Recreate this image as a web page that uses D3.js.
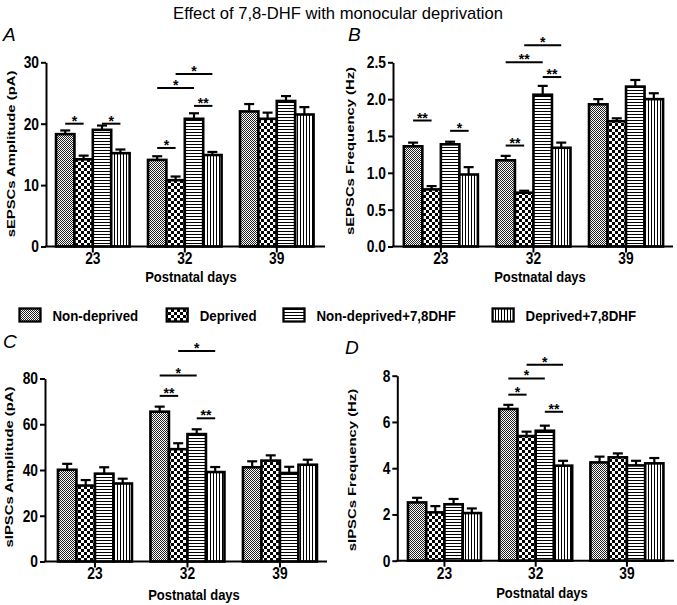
<!DOCTYPE html>
<html><head><meta charset="utf-8">
<script src="https://cdn.jsdelivr.net/npm/d3@7"></script>
<style>body{margin:0;background:#fff}svg{display:block}</style>
</head><body>
<svg id="chart" width="677" height="605"></svg>
<script>
// ---------- DATA ----------
const days = ["23", "32", "39"];
const groups = ["Non-deprived", "Deprived", "Non-deprived+7,8DHF", "Deprived+7,8DHF"];

// A: sEPSCs Amplitude (pA) — rows: days, cols: groups
const sEPSCampMean = [[18.3, 14.2, 19.0, 15.2], [14.1, 10.8, 20.8, 14.9], [22.0, 20.8, 23.7, 21.5]];
const sEPSCampSem  = [[0.6, 0.6, 0.7, 0.6], [0.6, 0.6, 0.9, 0.5], [1.2, 1.0, 0.8, 1.2]];
const sEPSCampTicks = [0, 10, 20, 30];
const sEPSCampSig = [
  {day: "23", a: 0, b: 1, y: 20.0, t: "*"}, {day: "23", a: 2, b: 3, y: 20.0, t: "*"},
  {day: "32", a: 0, b: 1, y: 16.05, t: "*"}, {day: "32", a: 2, b: 3, y: 22.9, t: "**"},
  {day: "32", a: 0, b: 2, y: 25.8, t: "*"}, {day: "32", a: 1, b: 3, y: 28.1, t: "*"}];

// B: sEPSCs Frequency (Hz)
const sEPSCfreqMean = [[1.36, 0.775, 1.387, 0.977], [1.17, 0.73, 2.06, 1.34], [1.93, 1.70, 2.17, 2.00]];
const sEPSCfreqSem  = [[0.05, 0.045, 0.035, 0.10], [0.06, 0.027, 0.12, 0.07], [0.07, 0.04, 0.09, 0.08]];
const sEPSCfreqTicks = [0, 0.5, 1.0, 1.5, 2.0, 2.5];
const sEPSCfreqSig = [
  {day: "23", a: 0, b: 1, y: 1.71, t: "**"}, {day: "23", a: 2, b: 3, y: 1.57, t: "*"},
  {day: "32", a: 0, b: 1, y: 1.37, t: "**"}, {day: "32", a: 2, b: 3, y: 2.30, t: "**"},
  {day: "32", a: 0, b: 2, y: 2.50, t: "**"}, {day: "32", a: 1, b: 3, y: 2.73, t: "*"}];

// C: sIPSCs Amplitude (pA)
const sIPSCampMean = [[40.1, 33.2, 38.4, 34.1], [65.5, 49.1, 55.7, 39.1], [41.2, 44.1, 38.7, 42.3]];
const sIPSCampSem  = [[2.6, 2.4, 2.8, 2.1], [2.2, 2.6, 2.1, 2.2], [2.6, 2.3, 2.7, 2.2]];
const sIPSCampTicks = [0, 20, 40, 60, 80];
const sIPSCampSig = [
  {day: "32", a: 0, b: 1, y: 72.4, t: "**"}, {day: "32", a: 0, b: 2, y: 81.3, t: "*"},
  {day: "32", a: 1, b: 3, y: 92.0, t: "*"}, {day: "32", a: 2, b: 3, y: 62.6, t: "**"}];

// D: sIPSCs Frequency (Hz)
const sIPSCfreqMean = [[2.52, 2.09, 2.44, 2.06], [6.56, 5.39, 5.62, 4.11], [4.25, 4.47, 4.12, 4.21]];
const sIPSCfreqSem  = [[0.20, 0.27, 0.23, 0.20], [0.18, 0.19, 0.22, 0.21], [0.25, 0.17, 0.20, 0.23]];
const sIPSCfreqTicks = [0, 2, 4, 6, 8];
const sIPSCfreqSig = [
  {day: "32", a: 0, b: 1, y: 7.18, t: "*"}, {day: "32", a: 0, b: 2, y: 7.88, t: "*"},
  {day: "32", a: 1, b: 3, y: 8.47, t: "*"}, {day: "32", a: 2, b: 3, y: 6.44, t: "**"}];

const titleText = "Effect of 7,8-DHF with monocular deprivation";
const xTitle = "Postnatal days";

// ---------- LAYOUT ----------
const FONT = "'Liberation Sans', Arial, Helvetica, sans-serif";
const K = 1.17; // vertical text stretch seen in the figure
const svg = d3.select("#chart");

// patterns
const defs = svg.append("defs");
function pat(id, w, h, draw) {
  const p = defs.append("pattern").attr("id", id).attr("patternUnits", "userSpaceOnUse")
    .attr("width", w).attr("height", h);
  p.append("rect").attr("width", w).attr("height", h).attr("fill", "#fff");
  draw(p);
}
pat("p0", 2, 2, p => {
  p.append("rect").attr("x", 0).attr("y", 0).attr("width", 1).attr("height", 1).attr("fill", "#222");
  p.append("rect").attr("x", 1).attr("y", 1).attr("width", 1).attr("height", 1).attr("fill", "#222");
});
pat("p1", 6, 6, p => {
  p.append("rect").attr("x", 0).attr("y", 0).attr("width", 3).attr("height", 3).attr("fill", "#000");
  p.append("rect").attr("x", 3).attr("y", 3).attr("width", 3).attr("height", 3).attr("fill", "#000");
});
pat("p2", 4, 3, p => {
  p.append("rect").attr("x", 0).attr("y", 0).attr("width", 4).attr("height", 1).attr("fill", "#000");
});
pat("p3", 3, 4, p => {
  p.append("rect").attr("x", 0).attr("y", 0).attr("width", 1).attr("height", 4).attr("fill", "#000");
});
const fills = ["url(#p0)", "url(#p1)", "url(#p2)", "url(#p3)"];

function stretchText(g, x, y, txt, size, weight, anchor, k, rot) {
  const gg = g.append("g").attr("transform", `translate(${x},${y}) scale(1,${k})` + (rot ? ` rotate(${rot})` : ""));
  return gg.append("text").attr("text-anchor", anchor).attr("font-family", FONT)
    .attr("font-size", size).attr("font-weight", weight).attr("fill", "#000").text(txt);
}

// title
svg.append("text").attr("x", 338).attr("y", 18.5).attr("text-anchor", "middle")
  .attr("font-family", FONT).attr("font-size", 16.6).attr("fill", "#000").text(titleText);

const panels = [
  {letter: "A", lx: 3, ly: 40.5, mean: sEPSCampMean, sem: sEPSCampSem, ticks: sEPSCampTicks, sig: sEPSCampSig,
   fmt: d3.format("d"), ylab: "sEPSCs Amplitude (pA)", ax: 46, axEnd: 325, rx1: 323.6, po: 0.109,
   yb: 246.5, yt: 62.3, ylx: 15, yly: 154, xtx: 191, xty: 281.5},
  {letter: "B", lx: 348, ly: 41, mean: sEPSCfreqMean, sem: sEPSCfreqSem, ticks: sEPSCfreqTicks, sig: sEPSCfreqSig,
   fmt: d3.format(".1f"), ylab: "sEPSCs Frequency (Hz)", ax: 393, axEnd: 673, rx1: 673.9, po: 0.117,
   yb: 246.5, yt: 62.3, ylx: 354, yly: 151, xtx: 540, xty: 281.5},
  {letter: "C", lx: 3, ly: 348, mean: sIPSCampMean, sem: sIPSCampSem, ticks: sIPSCampTicks, sig: sIPSCampSig,
   fmt: d3.format("d"), ylab: "sIPSCs Amplitude (pA)", ax: 45, axEnd: 327, rx1: 329.9, po: 0.14,
   yb: 561.5, yt: 378.5, ylx: 13, yly: 467, xtx: 194, xty: 599.5},
  {letter: "D", lx: 345, ly: 354, mean: sIPSCfreqMean, sem: sIPSCfreqSem, ticks: sIPSCfreqTicks, sig: sIPSCfreqSig,
   fmt: d3.format("d"), ylab: "sIPSCs Frequency (Hz)", ax: 397.3, axEnd: 674, rx1: 674.1, po: 0.117,
   yb: 560.7, yt: 375.7, ylx: 356, yly: 470, xtx: 542, xty: 598}
];

panels.forEach(P => {
  const g = svg.append("g");
  const yMax = P.ticks[P.ticks.length - 1];
  const y = d3.scaleLinear().domain([0, yMax]).range([P.yb, P.yt]);
  const x0 = d3.scaleBand().domain(days).range([P.ax, P.rx1]).paddingInner(0.2).paddingOuter(P.po);
  const x1 = d3.scaleBand().domain(d3.range(groups.length)).range([0, x0.bandwidth()]);
  const bw = x1.bandwidth();
  const cx = (day, gi) => x0(day) + x1(gi) + bw / 2;

  // panel letter
  g.append("text").attr("x", P.lx).attr("y", P.ly).attr("font-family", FONT).attr("font-style", "italic")
    .attr("font-size", 19).text(P.letter);

  // bars
  const rows = [];
  days.forEach((d, di) => groups.forEach((gr, gi) => rows.push({day: d, gi, m: P.mean[di][gi], s: P.sem[di][gi]})));
  g.selectAll("rect.bar").data(rows).join("rect").attr("class", "bar")
    .attr("x", r => x0(r.day) + x1(r.gi)).attr("width", bw)
    .attr("y", r => y(r.m)).attr("height", r => y(0) - y(r.m))
    .attr("fill", r => fills[r.gi]).attr("stroke", "#000").attr("stroke-width", 2.6);
  // error bars
  g.selectAll("line.eb").data(rows).join("line").attr("class", "eb")
    .attr("x1", r => cx(r.day, r.gi)).attr("x2", r => cx(r.day, r.gi))
    .attr("y1", r => y(r.m)).attr("y2", r => y(r.m + r.s)).attr("stroke", "#000").attr("stroke-width", 2.2);
  g.selectAll("line.cap").data(rows).join("line").attr("class", "cap")
    .attr("x1", r => cx(r.day, r.gi) - 5).attr("x2", r => cx(r.day, r.gi) + 5)
    .attr("y1", r => y(r.m + r.s)).attr("y2", r => y(r.m + r.s)).attr("stroke", "#000").attr("stroke-width", 2.2);

  // y axis
  const ya = g.append("g").attr("transform", `translate(${P.ax},0)`)
    .call(d3.axisLeft(y).tickValues(P.ticks).tickFormat(P.fmt).tickSize(5).tickPadding(2).tickSizeOuter(0));
  ya.select(".domain").attr("stroke-width", 2);
  ya.selectAll(".tick line").attr("stroke-width", 2);
  ya.selectAll(".tick text").attr("font-family", FONT).attr("font-size", 13.8).attr("font-weight", "bold")
    .attr("fill", "#000").attr("transform", `scale(1,${K})`).attr("dy", "0.34em");

  // x axis
  const xa = g.append("g").attr("transform", `translate(0,${P.yb})`)
    .call(d3.axisBottom(x0).tickSize(6).tickSizeOuter(0));
  xa.select(".domain").remove();
  xa.selectAll(".tick line").attr("stroke-width", 2);
  xa.selectAll(".tick text").attr("font-family", FONT).attr("font-size", 13.8).attr("font-weight", "bold")
    .attr("fill", "#000").attr("transform", `scale(1,${K})`).attr("y", 18 / K).attr("dy", 0);
  g.append("line").attr("x1", P.ax - 1).attr("x2", P.axEnd).attr("y1", P.yb).attr("y2", P.yb)
    .attr("stroke", "#000").attr("stroke-width", 2);

  // axis titles
  stretchText(g, P.xtx, P.xty, xTitle, 13, "bold", "middle", K);
  stretchText(g, P.ylx, P.yly, P.ylab, 11.5, "bold", "middle", 1.29, -90);

  // significance
  P.sig.forEach(s => {
    const xa1 = cx(s.day, s.a), xa2 = cx(s.day, s.b), yy = y(s.y);
    g.append("line").attr("x1", xa1).attr("x2", xa2).attr("y1", yy).attr("y2", yy)
      .attr("stroke", "#000").attr("stroke-width", 2);
    g.append("text").attr("x", (xa1 + xa2) / 2).attr("y", yy + 2).attr("text-anchor", "middle")
      .attr("font-family", FONT).attr("font-weight", "bold").attr("font-size", 14).text(s.t);
  });
});

// legend
const legX = [19.5, 166.7, 283.5, 492.6];
const leg = svg.append("g");
groups.forEach((gr, i) => {
  leg.append("rect").attr("x", legX[i]).attr("y", 308.5).attr("width", 21).attr("height", 13)
    .attr("fill", fills[i]).attr("stroke", "#000").attr("stroke-width", 2.3);
  stretchText(leg, legX[i] + 33, 320.5, gr, 13.3, "bold", "start", K);
});
</script>
</body></html>
